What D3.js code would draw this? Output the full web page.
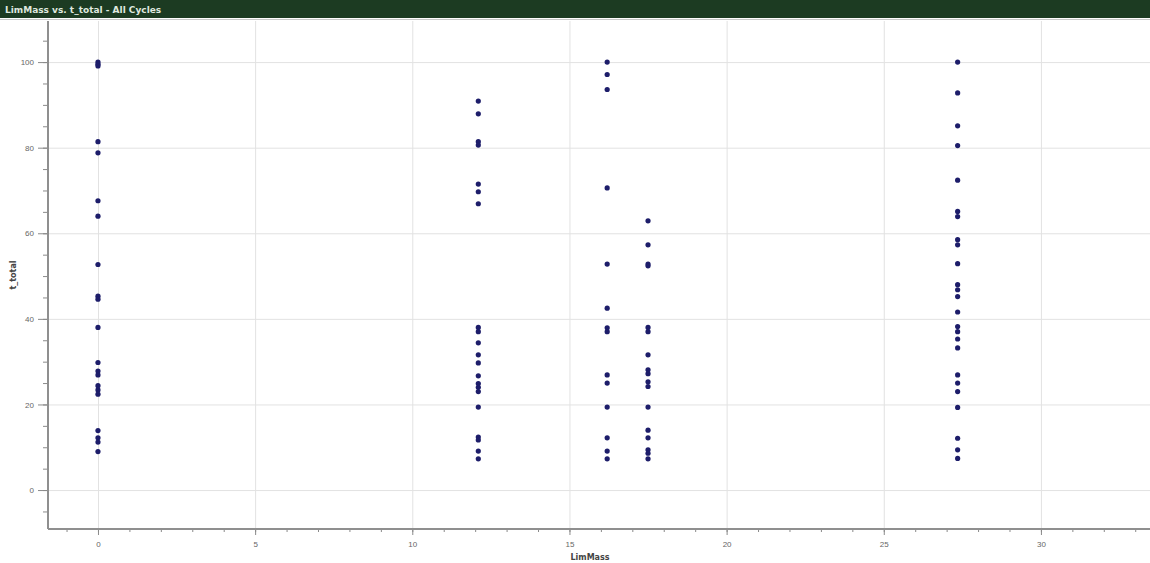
<!DOCTYPE html>
<html>
<head>
<meta charset="utf-8">
<script src="https://cdn.jsdelivr.net/npm/d3@7"></script>
<style>
	html, body { margin: 0; padding: 0; background: #fff; }
	svg { display: block; font-family: "DejaVu Sans", sans-serif; }
</style>
</head>
<body>
<script>
// LimMass columns and the t_total values read at each one
const limMass = [0, 12.1, 16.2, 17.5, 27.35];
const tTotal0 = [100, 99.5, 99.1, 81.4, 78.8, 67.6, 64.0, 52.7, 45.3, 44.6, 38.0, 29.8, 27.8, 26.9, 24.4, 23.4, 22.4, 13.9, 12.2, 11.2, 9.0];
const tTotal12 = [90.9, 87.9, 81.4, 80.6, 71.5, 69.7, 66.9, 38.0, 37.0, 34.4, 31.6, 29.7, 26.7, 24.9, 24.0, 23.0, 19.4, 12.4, 11.7, 9.1, 7.3];
const tTotal16 = [100, 97.1, 93.6, 70.6, 52.8, 42.5, 37.9, 37.0, 26.9, 25.0, 19.4, 12.2, 9.1, 7.3];
const tTotal17 = [62.9, 57.3, 52.8, 52.4, 38.0, 37.0, 31.6, 28.1, 27.2, 25.3, 24.2, 19.4, 14.0, 12.2, 9.4, 8.6, 7.3];
const tTotal27 = [100, 92.8, 85.1, 80.5, 72.4, 65.1, 63.9, 58.5, 57.3, 52.9, 48.0, 46.8, 45.2, 41.6, 38.2, 37.0, 35.3, 33.2, 26.9, 25.0, 23.0, 19.3, 12.1, 9.4, 7.4];

const xTicks = [0, 5, 10, 15, 20, 25, 30];
const yTicks = [0, 20, 40, 60, 80, 100];

const title = "LimMass vs. t_total - All Cycles";
const xLabel = "LimMass";
const yLabel = "t_total";

const width = 1150, height = 563;
const plot = { left: 48, right: 1150, top: 21, bottom: 529 };

const x = d3.scaleLinear().domain([-1.59, 33.47]).range([plot.left, plot.right]);
const y = d3.scaleLinear().domain([-9.1, 109.6]).range([plot.bottom, plot.top]);

const points = [tTotal0, tTotal12, tTotal16, tTotal17, tTotal27]
	.flatMap((vals, i) => vals.map(v => ({ lim: limMass[i], t: v })));

const svg = d3.select("body").append("svg")
	.attr("width", width)
	.attr("height", height);

// title bar
svg.append("rect")
	.attr("x", 0).attr("y", 0)
	.attr("width", width).attr("height", 18)
	.attr("fill", "#1c3b22");
svg.append("text")
	.attr("x", 5).attr("y", 12.5)
	.attr("font-size", 9)
	.attr("font-weight", "bold")
	.attr("fill", "#dfe8df")
	.text(title);
svg.append("line")
	.attr("x1", 0).attr("x2", width)
	.attr("y1", 19.5).attr("y2", 19.5)
	.attr("stroke", "#c8c8c8");

// grid
const grid = svg.append("g").attr("stroke", "#e2e2e2");
grid.selectAll(".gx").data(xTicks).join("line")
	.attr("x1", d => x(d) + 0.5).attr("x2", d => x(d) + 0.5)
	.attr("y1", plot.top).attr("y2", plot.bottom);
grid.selectAll(".gy").data(yTicks).join("line")
	.attr("x1", plot.left).attr("x2", plot.right)
	.attr("y1", d => y(d) + 0.5).attr("y2", d => y(d) + 0.5);

// axes
const xAxis = d3.axisBottom(x).tickValues(xTicks).tickSize(6).tickPadding(6).tickFormat(d3.format("d"));
const xMinor = d3.axisBottom(x).tickValues(d3.range(-1, 34, 1)).tickSize(3).tickFormat("");
const yAxis = d3.axisLeft(y).tickValues(yTicks).tickSize(10).tickPadding(4).tickFormat(d3.format("d"));
const yMinor = d3.axisLeft(y).tickValues(d3.range(-5, 110, 5)).tickSize(5).tickFormat("");

function styleAxis(g) {
	g.select(".domain").remove();
	g.selectAll("line").attr("stroke", "#8a8a8a");
	g.selectAll("text").attr("fill", "#666").attr("font-size", 8);
}

svg.append("g").attr("transform", `translate(0,${plot.bottom})`).call(xMinor).call(styleAxis);
svg.append("g").attr("transform", `translate(0,${plot.bottom})`).call(xAxis).call(styleAxis);
svg.append("g").attr("transform", `translate(${plot.left},0)`).call(yMinor).call(styleAxis);
svg.append("g").attr("transform", `translate(${plot.left},0)`).call(yAxis).call(styleAxis);

// axis lines
svg.append("line")
	.attr("x1", plot.left).attr("x2", plot.right)
	.attr("y1", plot.bottom).attr("y2", plot.bottom)
	.attr("stroke", "#8f8f8f").attr("stroke-width", 2);
svg.append("line")
	.attr("x1", plot.left).attr("x2", plot.left)
	.attr("y1", plot.top).attr("y2", plot.bottom)
	.attr("stroke", "#8f8f8f").attr("stroke-width", 2);

// axis titles
svg.append("text")
	.attr("x", 590).attr("y", 560)
	.attr("text-anchor", "middle")
	.attr("font-size", 8).attr("font-weight", "bold")
	.attr("fill", "#444")
	.text(xLabel);
svg.append("text")
	.attr("transform", `translate(16,${(plot.top + plot.bottom) / 2}) rotate(-90)`)
	.attr("text-anchor", "middle")
	.attr("font-size", 8).attr("font-weight", "bold")
	.attr("fill", "#444")
	.text(yLabel);

// points
svg.append("g").selectAll("circle").data(points).join("circle")
	.attr("cx", d => x(d.lim))
	.attr("cy", d => y(d.t))
	.attr("r", 2.6)
	.attr("fill", "#1d1d6a");
</script>
</body>
</html>
